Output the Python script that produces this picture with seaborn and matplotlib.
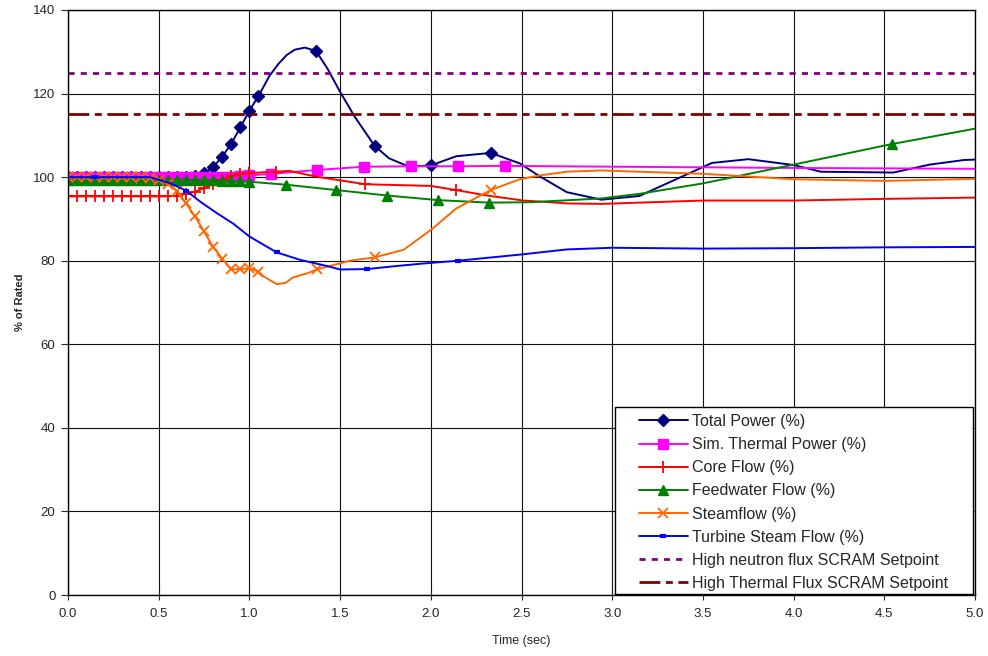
import matplotlib
matplotlib.use("Agg")
import matplotlib.pyplot as plt
from matplotlib.patches import Rectangle
import seaborn as sns
import numpy as np

# ---------------- data ----------------
step_t = [round(0.05 * i, 2) for i in range(22)]  # 0.00 .. 1.05

tp_t = step_t + [1.11, 1.16, 1.205, 1.25, 1.306, 1.367, 1.43, 1.50, 1.58, 1.69, 1.77,
                 1.88, 2.00, 2.14, 2.33, 2.49, 2.60, 2.75, 2.94, 3.15, 3.55, 3.75,
                 4.00, 4.15, 4.55, 4.75, 4.94, 5.00]
tp_v = [100.0] * 14 + [100.2, 100.9, 102.4, 104.9, 108.0, 111.9, 115.9, 119.4] + \
       [124.2, 127.1, 129.2, 130.5, 131.0, 130.2, 126.0, 120.4, 114.5, 107.5, 104.5,
        102.5, 102.8, 105.0, 105.8, 103.3, 100.2, 96.4, 94.6, 95.5, 103.4, 104.3,
        102.9, 101.3, 101.1, 103.0, 104.1, 104.2]
tp_mark = list(range(22)) + [27, 31, 34, 36]

st_t = step_t[:21] + [1.12, 1.37, 1.63, 1.89, 2.15, 2.41, 3.00, 4.00, 5.00]
st_v = [100.0] * 18 + [100.1, 100.2, 100.4] + \
       [100.8, 101.7, 102.5, 102.6, 102.6, 102.7, 102.5, 102.2, 102.0]
st_mark = list(range(27))

cf_t = step_t[:21] + [1.147, 1.22, 1.37, 1.64, 2.00, 2.14, 2.31, 2.51, 2.66, 2.75,
                      2.94, 3.50, 4.00, 4.50, 5.00]
cf_v = [95.4] * 12 + [95.6, 96.0, 96.5, 97.4, 98.3, 99.3, 100.2, 100.7, 101.0] + \
       [101.3, 101.5, 100.1, 98.3, 97.9, 96.9, 95.6, 94.4, 94.0, 93.7,
        93.6, 94.4, 94.4, 94.8, 95.1]
cf_mark = list(range(21)) + [21, 24, 26]

fw_t = step_t[:21] + [1.20, 1.48, 1.76, 2.04, 2.32, 2.55, 2.94, 3.15, 3.50, 4.00,
                      4.54, 5.00]
fw_v = [99.4] * 14 + [99.3, 99.3, 99.2, 99.1, 99.0, 99.0, 98.9] + \
       [98.2, 96.9, 95.6, 94.5, 93.9, 94.0, 94.9, 96.0, 98.5, 103.0,
        107.9, 111.6]
fw_mark = list(range(26)) + [31]

sf_t = step_t + [1.08, 1.15, 1.20, 1.24, 1.32, 1.37, 1.555, 1.69, 1.85, 2.01, 2.14,
                 2.33, 2.49, 2.60, 2.75, 2.94, 3.50, 4.00, 4.50, 5.00]
sf_v = [100.0] * 9 + [99.8, 99.4, 98.4, 96.6, 93.8, 90.6, 87.0, 83.3, 80.5, 77.9,
                       78.0, 78.2, 77.4] + \
       [76.2, 74.4, 74.7, 76.0, 77.0, 77.9, 80.0, 80.8, 82.6, 87.7, 92.5,
        96.9, 99.5, 100.4, 101.3, 101.6, 100.8, 99.5, 99.1, 99.6]
sf_mark = list(range(22)) + [27, 29, 33]

tb_t = [0.0, 0.15, 0.30, 0.45, 0.56, 0.65, 0.73, 0.82, 0.91, 1.00, 1.15, 1.28, 1.44,
        1.50, 1.65, 1.78, 1.95, 2.15, 2.50, 2.75, 3.00, 3.50, 4.00, 4.50, 5.00]
tb_v = [100.0, 100.0, 100.0, 100.0, 98.6, 96.8, 94.1, 91.4, 88.9, 85.8, 82.0, 80.2,
        78.6, 77.9, 78.0, 78.6, 79.3, 80.0, 81.5, 82.7, 83.1, 82.9, 83.0, 83.2, 83.3]
tb_mark = [1, 5, 10, 14, 17]

neutron_setpoint = 125
thermal_setpoint = 115

labels = ["Total Power (%)", "Sim. Thermal Power (%)", "Core Flow (%)",
          "Feedwater Flow (%)", "Steamflow (%)", "Turbine Steam Flow (%)",
          "High neutron flux SCRAM Setpoint", "High Thermal Flux SCRAM Setpoint"]

# ---------------- plotting ----------------
sns.set_style("white")
plt.rcParams['font.family'] = ['Liberation Sans', 'DejaVu Sans']

W, H = 988, 656
fig = plt.figure(figsize=(W / 100, H / 100), dpi=100)
ax = fig.add_axes([68 / W, 61 / H, (975 - 68) / W, (595 - 10) / H])

series = [
    (tp_t, tp_v, tp_mark, "#000080", "D", 6, 1.0, labels[0]),
    (st_t, st_v, st_mark, "#FF00FF", "s", 7, 1.0, labels[1]),
    (cf_t, cf_v, cf_mark, "#FF0000", "+", 9, 1.3, labels[2]),
    (fw_t, fw_v, fw_mark, "#008000", "^", 7, 1.0, labels[3]),
    (sf_t, sf_v, sf_mark, "#FF6600", "x", 7, 1.3, labels[4]),
    (tb_t, tb_v, tb_mark, "#0000FF", "_", 5, 3.0, labels[5]),
]
for t, v, mk, col, m, ms, mew, lab in series:
    sns.lineplot(x=t, y=v, ax=ax, color=col, marker=m, markersize=ms,
                 markeredgewidth=mew, markeredgecolor=col, markerfacecolor=col,
                 markevery=mk, linewidth=1.4, label=lab, sort=True,
                 estimator=None)

ax.axhline(neutron_setpoint, color="#800080", linestyle=(0, (2.2, 2.2)),
           linewidth=2.0, label=labels[6])
ax.axhline(thermal_setpoint, color="#800000", linestyle=(0, (7.5, 2, 2.5, 2)),
           linewidth=2.0, label=labels[7])

ax.set_xlim(0, 5)
ax.set_ylim(0, 140)
ax.set_xticks(np.arange(0, 5.01, 0.5))
ax.set_xticklabels([f"{x:.1f}" for x in np.arange(0, 5.01, 0.5)])
ax.set_yticks(np.arange(0, 141, 20))
ax.grid(True, color="#111111", linewidth=0.8)
for s in ax.spines.values():
    s.set_color("#000000")
    s.set_linewidth(1.0)
ax.tick_params(axis="y", direction="out", length=5, width=0.8, labelsize=9.5,
               left=True, pad=4)
ax.tick_params(axis="x", direction="inout", length=7, width=0.8, labelsize=9.5,
               bottom=True, pad=6)

ax.set_xlabel("Time (sec)", fontsize=9, labelpad=11)
ax.set_ylabel("% of Rated", fontsize=8, fontweight="bold", labelpad=6)

# legend frame drawn separately (Excel-like wide side padding)
frame = Rectangle((615 / W, 1 - 594 / H), (973 - 615) / W, (594 - 407) / H,
                  transform=fig.transFigure, facecolor="white",
                  edgecolor="black", linewidth=1.0, zorder=4, clip_on=False)
ax.add_patch(frame)
leg = ax.legend(loc="upper left", bbox_to_anchor=(639 / W, 1 - 414 / H),
                bbox_transform=fig.transFigure, fontsize=11.5,
                frameon=False, handlelength=3.05, labelspacing=0.51,
                borderpad=0.0, handletextpad=0.25, borderaxespad=0.0)
leg.set_zorder(6)

fig.savefig("out.png", dpi=100)
